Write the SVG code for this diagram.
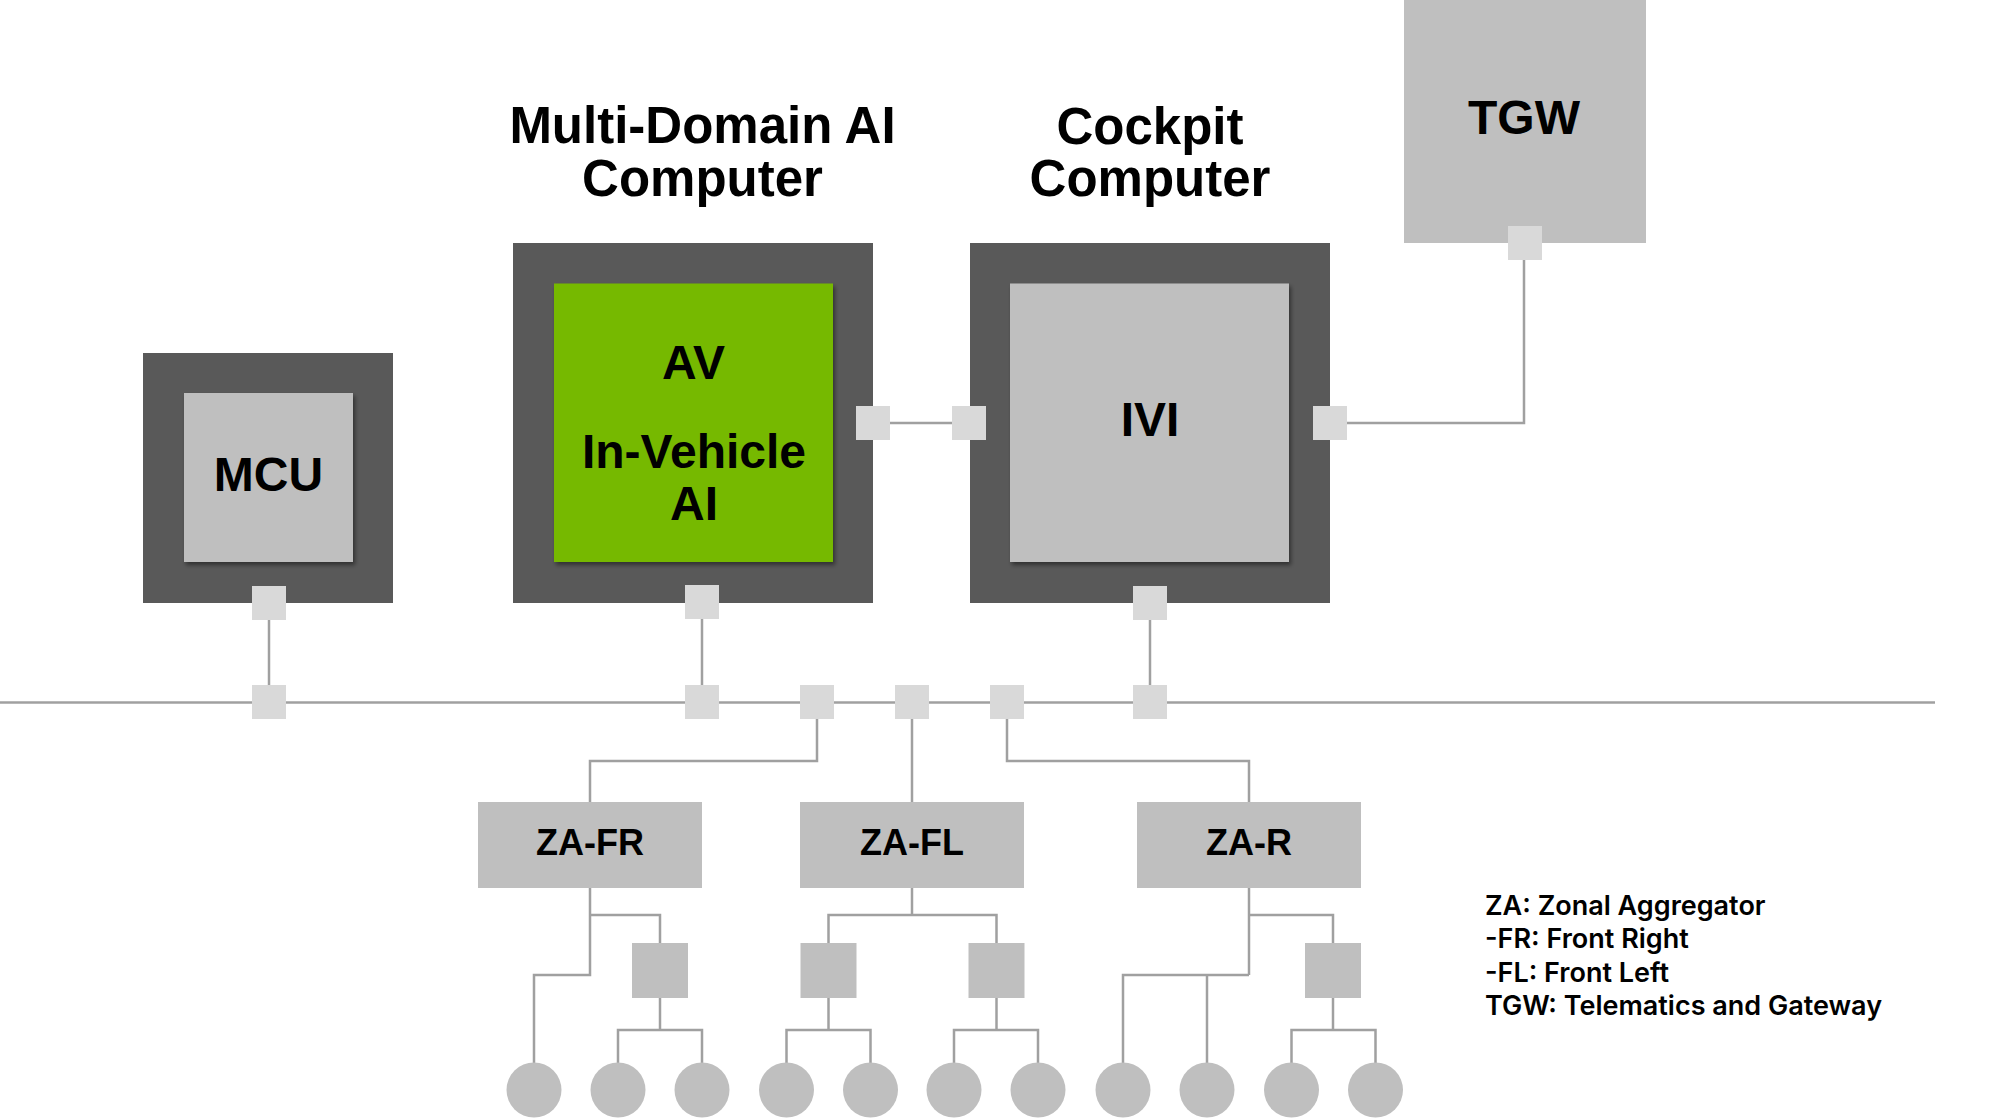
<svg xmlns="http://www.w3.org/2000/svg" width="1999" height="1119" viewBox="0 0 1999 1119">
  <style>
    .outer { fill: #595959; }
    .inner { fill: #bfbfbf; }
    .green { fill: #76b900; }
    .port { fill: #d9d9d9; }
    .box { fill: #bfbfbf; }
    .leaf { fill: #bfbfbf; }
    .wire { fill: none; stroke: #a0a0a0; stroke-width: 2.5; }
    .title { font-family: "Liberation Sans", Arial, sans-serif; font-weight: bold; font-size: 51px; fill: #000; text-anchor: middle; }
    .label { font-family: "Liberation Sans", Arial, sans-serif; font-weight: bold; font-size: 48px; fill: #000; text-anchor: middle; }
    .zlabel { font-family: "Liberation Sans", Arial, sans-serif; font-weight: bold; font-size: 36px; fill: #000; text-anchor: middle; }
    .legend { font-family: Inter, "Liberation Sans", Arial, sans-serif; font-weight: 600; font-size: 27px; fill: #000; }
  </style>
  <defs>
    <filter id="shadow" x="-10%" y="-10%" width="130%" height="130%">
      <feDropShadow dx="2" dy="3" stdDeviation="2" flood-color="#000" flood-opacity="0.45"/>
    </filter>
  </defs>
  <rect width="1999" height="1119" fill="#ffffff"/>

  <g id="connectors">
    <path class="wire" d="M0 702.5 H1935"/>
    <path class="wire" d="M269 620 V685"/>
    <path class="wire" d="M702 619 V685"/>
    <path class="wire" d="M1150 620 V685"/>
    <path class="wire" d="M890 423 H952"/>
    <path class="wire" d="M1346 423 H1524 V260"/>
    <path class="wire" d="M817 719 V761 H590 V802"/>
    <path class="wire" d="M912 719 V802"/>
    <path class="wire" d="M1007 719 V761 H1249 V802"/>
    <!-- ZA-FR subtree -->
    <path class="wire" d="M590 888 V975 H534 V1063"/>
    <path class="wire" d="M590 915 H660 V943"/>
    <path class="wire" d="M660 998 V1030"/>
    <path class="wire" d="M618 1063 V1030 H702 V1063"/>
    <!-- ZA-FL subtree -->
    <path class="wire" d="M912 888 V915"/>
    <path class="wire" d="M828.5 943 V915 H996.5 V943"/>
    <path class="wire" d="M828.5 998 V1030"/>
    <path class="wire" d="M786.5 1063 V1030 H870.5 V1063"/>
    <path class="wire" d="M996.5 998 V1030"/>
    <path class="wire" d="M954 1063 V1030 H1038 V1063"/>
    <!-- ZA-R subtree -->
    <path class="wire" d="M1249 888 V975"/>
    <path class="wire" d="M1123 1063 V975 H1249"/>
    <path class="wire" d="M1207 975 V1063"/>
    <path class="wire" d="M1249 915 H1333 V943"/>
    <path class="wire" d="M1333 998 V1030"/>
    <path class="wire" d="M1291.5 1063 V1030 H1375.5 V1063"/>
  </g>

  <g id="title-md">
    <text class="title" x="702.5" y="143">Multi-Domain AI</text>
    <text class="title" x="702.5" y="196">Computer</text>
  </g>
  <g id="title-cockpit">
    <text class="title" x="1150" y="144">Cockpit</text>
    <text class="title" x="1150" y="196">Computer</text>
  </g>

  <g id="mcu">
    <rect class="outer" x="143" y="353" width="250" height="250"/>
    <rect class="inner" x="184" y="393" width="169" height="169" filter="url(#shadow)"/>
    <text class="label" x="268.5" y="491">MCU</text>
    <rect class="port" x="252" y="586" width="34" height="34"/>
  </g>

  <g id="av">
    <rect class="outer" x="513" y="243" width="360" height="360"/>
    <rect class="green" x="554" y="283.5" width="279" height="278.5" filter="url(#shadow)"/>
    <text class="label" x="693.5" y="379" font-size="50">AV</text>
    <text class="label" x="694" y="468">In-Vehicle</text>
    <text class="label" x="694" y="520">AI</text>
    <rect class="port" x="856" y="406" width="34" height="34"/>
    <rect class="port" x="685" y="585" width="34" height="34"/>
  </g>

  <g id="ivi">
    <rect class="outer" x="970" y="243" width="360" height="360"/>
    <rect class="inner" x="1010" y="283.5" width="279" height="278.5" filter="url(#shadow)"/>
    <text class="label" x="1150" y="436">IVI</text>
    <rect class="port" x="952" y="406" width="34" height="34"/>
    <rect class="port" x="1313" y="406" width="34" height="34"/>
    <rect class="port" x="1133" y="586" width="34" height="34"/>
  </g>

  <g id="tgw">
    <rect class="inner" x="1404" y="0" width="242" height="243"/>
    <text class="label" x="1524" y="134">TGW</text>
    <rect class="port" x="1508" y="226" width="34" height="34"/>
  </g>

  <g id="bus-ports">
    <rect class="port" x="252" y="685" width="34" height="34"/>
    <rect class="port" x="685" y="685" width="34" height="34"/>
    <rect class="port" x="800" y="685" width="34" height="34"/>
    <rect class="port" x="895" y="685" width="34" height="34"/>
    <rect class="port" x="990" y="685" width="34" height="34"/>
    <rect class="port" x="1133" y="685" width="34" height="34"/>
  </g>

  <g id="za-fr">
    <rect class="box" x="478" y="802" width="224" height="86"/>
    <text class="zlabel" x="590" y="855">ZA-FR</text>
  </g>
  <g id="za-fl">
    <rect class="box" x="800" y="802" width="224" height="86"/>
    <text class="zlabel" x="912" y="855">ZA-FL</text>
  </g>
  <g id="za-r">
    <rect class="box" x="1137" y="802" width="224" height="86"/>
    <text class="zlabel" x="1249" y="855">ZA-R</text>
  </g>

  <g id="switches">
    <rect class="box" x="632" y="943" width="56" height="55"/>
    <rect class="box" x="800.5" y="943" width="56" height="55"/>
    <rect class="box" x="968.5" y="943" width="56" height="55"/>
    <rect class="box" x="1305" y="943" width="56" height="55"/>
  </g>

  <g id="endpoints">
    <circle class="leaf" cx="534" cy="1090" r="27.5"/>
    <circle class="leaf" cx="618" cy="1090" r="27.5"/>
    <circle class="leaf" cx="702" cy="1090" r="27.5"/>
    <circle class="leaf" cx="786.5" cy="1090" r="27.5"/>
    <circle class="leaf" cx="870.5" cy="1090" r="27.5"/>
    <circle class="leaf" cx="954" cy="1090" r="27.5"/>
    <circle class="leaf" cx="1038" cy="1090" r="27.5"/>
    <circle class="leaf" cx="1123" cy="1090" r="27.5"/>
    <circle class="leaf" cx="1207" cy="1090" r="27.5"/>
    <circle class="leaf" cx="1291.5" cy="1090" r="27.5"/>
    <circle class="leaf" cx="1375.5" cy="1090" r="27.5"/>
  </g>

  <g id="legend">
    <text class="legend" x="1485" y="915">ZA: Zonal Aggregator</text>
    <text class="legend" x="1485" y="948">-FR: Front Right</text>
    <text class="legend" x="1485" y="982">-FL: Front Left</text>
    <text class="legend" x="1485" y="1015">TGW: Telematics and Gateway</text>
  </g>
</svg>
